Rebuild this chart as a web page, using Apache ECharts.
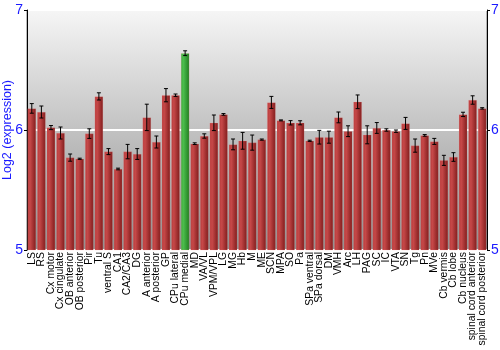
<!DOCTYPE html>
<html>
<head>
<meta charset="utf-8">
<script src="https://cdn.jsdelivr.net/npm/echarts@6/dist/echarts.min.js"></script>
<style>
  html, body { margin: 0; padding: 0; background: #fff; }
  #chart { width: 500px; height: 350px; }
</style>
</head>
<body>
<div id="chart"></div>
<script>
var regions = ['LS', 'RS', 'Cx motor', 'Cx cingulate', 'OB anterior', 'OB posterior', 'Pir', 'Tu',
  'ventral S', 'CA1', 'CA2/CA3', 'DG', 'A anterior', 'A posterior', 'GP', 'CPu lateral', 'CPu medial',
  'MD', 'VA/VL', 'VPM/VPL', 'LG', 'MG', 'Hb', 'M', 'ME', 'SCN', 'MPA', 'SO', 'Pa', 'SPa ventral',
  'SPa dorsal', 'DM', 'VMH', 'Arc', 'LH', 'PAG', 'SC', 'IC', 'VTA', 'SN', 'Tg', 'Pn', 'MVe',
  'Cb vermis', 'Cb lobe', 'Cb nucleus', 'spinal cord anterior', 'spinal cord posterior']

var expression = [6.18, 6.15, 6.02, 5.975, 5.77, 5.76, 5.97, 6.28,
  5.82, 5.675, 5.82, 5.80, 6.105, 5.90, 6.29, 6.29, 6.64,
  5.886, 5.95, 6.06, 6.13, 5.88, 5.91, 5.895, 5.92, 6.23, 6.08, 6.06, 6.06, 5.91,
  5.94, 5.94, 6.105, 5.99, 6.235, 5.96, 6.017, 6.0, 5.99, 6.055, 5.87, 5.955, 5.905,
  5.747, 5.775, 6.13, 6.25, 6.18]

var stdErr = [0.04, 0.05, 0.017, 0.05, 0.03, 0.005, 0.04, 0.03,
  0.025, 0.007, 0.06, 0.045, 0.11, 0.05, 0.055, 0.01, 0.02,
  0.007, 0.018, 0.065, 0.007, 0.045, 0.07, 0.063, 0.005, 0.05, 0.004, 0.018, 0.017, 0.005,
  0.057, 0.05, 0.045, 0.045, 0.057, 0.075, 0.045, 0.01, 0.01, 0.05, 0.055, 0.007, 0.025,
  0.042, 0.036, 0.018, 0.035, 0.006]

var highlighted = 'CPu medial'
var yTicks = [5, 6, 7]

var redFill = new echarts.graphic.LinearGradient(0, 0, 1, 0, [
  { offset: 0, color: '#b83c3c' },
  { offset: 0.3, color: '#c64848' },
  { offset: 1, color: '#801c1c' }
])
var greenFill = new echarts.graphic.LinearGradient(0, 0, 1, 0, [
  { offset: 0, color: '#3fae3f' },
  { offset: 0.3, color: '#4cbc4c' },
  { offset: 1, color: '#1f7d1f' }
])

var barData = expression.map(function (v, i) {
  return {
    value: v,
    itemStyle: { color: regions[i] === highlighted ? greenFill : redFill }
  }
})

var errData = expression.map(function (v, i) {
  return [i, v - stdErr[i], v + stdErr[i]]
})

var chart = echarts.init(document.getElementById('chart'))
chart.setOption({
  animation: false,
  grid: {
    left: 27,
    right: 13,
    top: 10,
    bottom: 100,
    containLabel: false,
    outerBoundsMode: 'none',
    show: true,
    borderColor: '#777',
    borderWidth: 1,
    backgroundColor: new echarts.graphic.LinearGradient(0, 0, 0, 1, [
      { offset: 0, color: '#f6f6f6' },
      { offset: 1, color: '#8e8e8e' }
    ])
  },
  xAxis: {
    type: 'category',
    data: regions,
    axisTick: { show: false },
    axisLine: { show: false },
    axisLabel: {
      rotate: 90,
      interval: 0,
      color: '#000',
      fontSize: 10.4,
      fontFamily: 'Liberation Sans',
      margin: 2,
      overflow: 'none'
    }
  },
  yAxis: [
    {
      type: 'value',
      min: yTicks[0],
      max: yTicks[yTicks.length - 1],
      interval: 1,
      name: 'Log2 (expression)',
      nameLocation: 'middle',
      nameGap: 13,
      nameMoveOverlap: false,
      nameTextStyle: { color: '#1a1aff', fontSize: 12.5, fontFamily: 'Liberation Sans' },
      axisLine: { show: true, lineStyle: { color: '#000' } },
      axisTick: { show: true, length: 3, lineStyle: { color: '#000' } },
      axisLabel: { color: '#1a1aff', fontSize: 14, fontFamily: 'Liberation Sans', margin: 4 },
      splitLine: { show: true, lineStyle: { color: '#fff', width: 2 } }
    },
    {
      type: 'value',
      position: 'right',
      min: yTicks[0],
      max: yTicks[yTicks.length - 1],
      interval: 1,
      axisLine: { show: true, lineStyle: { color: '#000' } },
      axisTick: { show: true, length: 3, lineStyle: { color: '#000' } },
      axisLabel: { color: '#1a1aff', fontSize: 14, fontFamily: 'Liberation Sans', margin: 4 },
      splitLine: { show: false }
    }
  ],
  series: [
    {
      type: 'bar',
      data: barData,
      barCategoryGap: '12%',
      itemStyle: { borderColor: 'rgba(255,150,150,0.35)', borderWidth: 0.5 }
    },
    {
      type: 'custom',
      data: errData,
      z: 5,
      renderItem: function (params, api) {
        var low = api.coord([api.value(0), api.value(1)])
        var high = api.coord([api.value(0), api.value(2)])
        var x = low[0]
        var w = 2
        var style = { stroke: '#000', lineWidth: 1 }
        return {
          type: 'group',
          children: [
            { type: 'line', shape: { x1: x, y1: low[1], x2: x, y2: high[1] }, style: style },
            { type: 'line', shape: { x1: x - w, y1: low[1], x2: x + w, y2: low[1] }, style: style },
            { type: 'line', shape: { x1: x - w, y1: high[1], x2: x + w, y2: high[1] }, style: style }
          ]
        }
      }
    }
  ]
})
</script>
</body>
</html>
